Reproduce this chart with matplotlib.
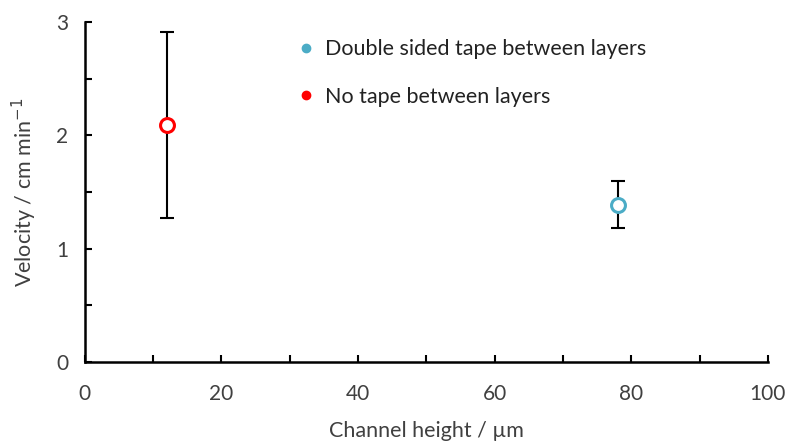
import matplotlib
matplotlib.use('Agg')
import matplotlib.pyplot as plt
from matplotlib.lines import Line2D
from matplotlib.ticker import MultipleLocator

plt.rcParams['font.family'] = ['Lato', 'DejaVu Sans']

# data
labels = ['Double sided tape between layers', 'No tape between layers']
colors = ['#4BACC6', '#FF0000']
channel_height = [78, 12]
velocity = [1.39, 2.09]
err_low = [0.21, 0.82]
err_high = [0.21, 0.82]

fig = plt.figure(figsize=(7.86, 4.41), dpi=100)
ax = fig.add_axes([0.108, 0.179, 0.869, 0.771])

for x, y, lo, hi, c in zip(channel_height, velocity, err_low, err_high, colors):
    ax.errorbar([x], [y], yerr=[[lo], [hi]], fmt='none', ecolor='black',
                elinewidth=1.5, capsize=5, capthick=1.5, zorder=2)
    ax.plot([x], [y], 'o', markersize=10, markerfacecolor='white',
            markeredgecolor=c, markeredgewidth=2.2, zorder=3)

ax.set_xlim(0, 100)
ax.set_ylim(0, 3)
ax.xaxis.set_major_locator(MultipleLocator(20))
ax.xaxis.set_minor_locator(MultipleLocator(10))
ax.yaxis.set_major_locator(MultipleLocator(1))
ax.yaxis.set_minor_locator(MultipleLocator(0.5))
ax.tick_params(which='both', direction='in', length=5, width=1.5, labelsize=15,
               labelcolor='#404040')
ax.tick_params(axis='x', pad=16)
ax.tick_params(axis='y', pad=12)
for s in ['top', 'right']:
    ax.spines[s].set_visible(False)
for s in ['left', 'bottom']:
    ax.spines[s].set_linewidth(1.8)

ax.set_xlabel('Channel height / µm', fontsize=15.5, color='#404040', labelpad=12)
ax.set_ylabel('Velocity / cm min$^{-1}$', fontsize=15.5, color='#404040', labelpad=12)

handles = [Line2D([], [], marker='o', linestyle='none', color=c, markersize=6) for c in colors]
ax.legend(handles, labels, loc='upper left', bbox_to_anchor=(0.286, 1.007), frameon=False,
          handlelength=0.6, handletextpad=0.6, labelspacing=1.3, fontsize=15.5,
          labelcolor='#222222')

fig.savefig('out.png', dpi=100)
